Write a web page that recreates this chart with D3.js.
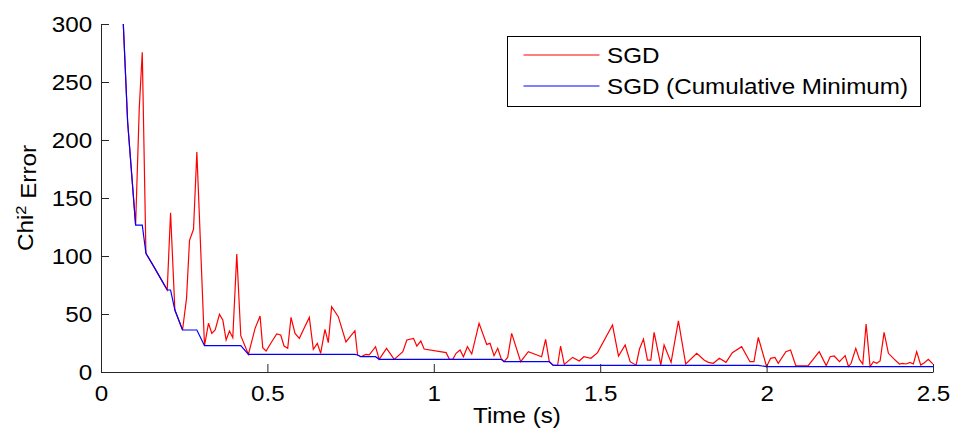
<!DOCTYPE html>
<html>
<head>
<meta charset="utf-8">
<script src="https://cdn.jsdelivr.net/npm/d3@7"></script>
<style>
  body { margin: 0; background: #fff; }
  #chart text { font-family: "Liberation Sans", Arial, sans-serif; fill: #000; }
</style>
</head>
<body>
<div id="chart"></div>
<script>
// SGD error (time in s, chi^2 error)
var sgdTime = [0.067, 0.080, 0.104, 0.115, 0.124, 0.135, 0.157, 0.179, 0.199, 0.209,
    0.222, 0.245, 0.257, 0.266, 0.278, 0.288, 0.311, 0.323, 0.333, 0.343,
    0.356, 0.366, 0.376, 0.386, 0.396, 0.408, 0.420, 0.443, 0.463, 0.478,
    0.486, 0.496, 0.513, 0.528, 0.540, 0.550, 0.561, 0.571, 0.583, 0.596,
    0.611, 0.626, 0.638, 0.650, 0.660, 0.673, 0.683, 0.693, 0.713, 0.736,
    0.763, 0.771, 0.781, 0.796, 0.806, 0.825, 0.836, 0.858, 0.881, 0.907,
    0.919, 0.939, 0.949, 0.961, 0.971, 1.037, 1.047, 1.057, 1.067, 1.079,
    1.089, 1.101, 1.114, 1.136, 1.159, 1.169, 1.181, 1.192, 1.202, 1.211,
    1.222, 1.234, 1.261, 1.284, 1.324, 1.336, 1.347, 1.359, 1.372, 1.381,
    1.392, 1.417, 1.437, 1.451, 1.472, 1.492, 1.537, 1.555, 1.575, 1.590,
    1.608, 1.618, 1.630, 1.642, 1.652, 1.662, 1.682, 1.692, 1.713, 1.735,
    1.757, 1.790, 1.812, 1.825, 1.840, 1.858, 1.878, 1.897, 1.925, 1.950,
    1.962, 1.975, 2.000, 2.012, 2.025, 2.035, 2.058, 2.072, 2.088, 2.125,
    2.158, 2.179, 2.191, 2.203, 2.219, 2.236, 2.246, 2.254, 2.268, 2.279,
    2.289, 2.299, 2.311, 2.321, 2.331, 2.341, 2.353, 2.366, 2.381, 2.399,
    2.409, 2.419, 2.431, 2.441, 2.451, 2.463, 2.474, 2.486, 2.500];
var sgdError = [300, 215.8, 126.7, 227.3, 275.6, 102.3, 91.7, 80.7, 70.7, 137.3,
    53.4, 36.2, 63.5, 113.5, 123, 189.7, 22.7, 42, 33.3, 36.2,
    49.7, 44.8, 27.6, 35.3, 29.6, 101.7, 31.3, 15.2, 37.6, 48.3,
    21, 18.1, 26.1, 32.8, 31.9, 22.4, 20.4, 47.1, 33.3, 29,
    38.2, 47.1, 19.5, 24.7, 16.1, 36.8, 25.3, 56.3, 47.7, 25.9,
    35.6, 14.7, 13.2, 15.2, 14.7, 21.8, 10.9, 20.4, 10.9, 17.5,
    27.6, 29, 22.4, 26.7, 19.8, 16.7, 10.9, 10.9, 16.1, 19,
    13.2, 21.8, 15.5, 42, 23.8, 24.7, 14.1, 20.4, 11.8, 8.9,
    12.6, 33.3, 8.9, 17.5, 13.2, 28.2, 8.9, 5.7, 5.8, 22.4,
    6.6, 12.6, 9.5, 13.2, 11.8, 16.7, 40.5, 13.8, 23.3, 8.9,
    5.9, 19.8, 28.4, 10.3, 10.3, 34.2, 5.9, 23.3, 8.3, 44,
    6.9, 16.1, 10.3, 8.3, 7.5, 11.8, 8.3, 16.7, 21.8, 8.9,
    8.9, 29.9, 4.6, 11.8, 12.5, 7.5, 17.5, 19, 5.2, 5.5,
    17.5, 5.5, 13.2, 13.8, 8.9, 14.1, 4.7, 7.5, 20.4, 10.9,
    6.9, 41.4, 4.7, 8.9, 7.5, 9.5, 34.2, 16.1, 11.8, 6.9,
    7.5, 6.9, 8.3, 6.9, 17.5, 6, 8, 10.9, 6.9];

// cumulative minimum, corner points
var minTime = [0.067, 0.080, 0.104, 0.124, 0.135, 0.157, 0.179, 0.199, 0.209, 0.222,
    0.245, 0.288, 0.311, 0.420, 0.443, 0.763, 0.771, 0.781, 0.825, 0.836,
    1.202, 1.211, 1.347, 1.359, 1.975, 2.000, 2.500];
var minError = [300, 215.8, 126.7, 126.7, 102.3, 91.7, 80.7, 70.7, 70.7, 53.4,
    36.2, 36.2, 22.7, 22.7, 15.2, 15.2, 14.7, 13.2, 13.2, 10.9,
    10.9, 8.9, 8.9, 5.7, 5.7, 4.6, 4.6];

var xTicks = [0, 0.5, 1, 1.5, 2, 2.5];
var yTicks = [0, 50, 100, 150, 200, 250, 300];
var seriesNames = ["SGD", "SGD (Cumulative Minimum)"];
var seriesColors = ["#ff0000", "#0000ff"];

var svgWidth = 953, svgHeight = 436;
var margin = { top: 24, right: 20, bottom: 64, left: 101 };
var width = svgWidth - margin.left - margin.right;   // 832
var height = svgHeight - margin.top - margin.bottom; // 348
var stretch = "scale(1.1,1)"; // reference glyphs are a bit wider than Arial

var svg = d3.select("#chart")
            .append("svg")
            .attr("width", svgWidth)
            .attr("height", svgHeight)
            .append("g")
            .attr("transform", "translate(" + margin.left + "," + margin.top + ")");

var xScale = d3.scaleLinear().domain([0, 2.5]).range([0, width]);
var yScale = d3.scaleLinear().domain([0, 300]).range([height, 0]);

svg.append("clipPath").attr("id", "plotclip")
   .append("rect").attr("width", width).attr("height", height);

var sgdData = sgdTime.map(function(t, i) { return [t, sgdError[i]]; });
var minData = minTime.map(function(t, i) { return [t, minError[i]]; });

var line = d3.line()
             .x(function(d) { return xScale(d[0]); })
             .y(function(d) { return yScale(d[1]); });

var plot = svg.append("g").attr("clip-path", "url(#plotclip)");
plot.append("path")
    .datum(sgdData)
    .attr("d", line)
    .attr("fill", "none")
    .attr("stroke", seriesColors[0])
    .attr("stroke-width", 1.2);
plot.append("path")
    .datum(minData)
    .attr("d", line)
    .attr("fill", "none")
    .attr("stroke", seriesColors[1])
    .attr("stroke-width", 1.2);

// axes, ticks pointing inward like matlab
var xAxis = d3.axisBottom(xScale)
              .tickValues(xTicks)
              .tickFormat(d3.format("~g"))
              .tickSizeInner(-8)
              .tickSizeOuter(0)
              .tickPadding(13);
var yAxis = d3.axisLeft(yScale)
              .tickValues(yTicks)
              .tickSizeInner(-8)
              .tickSizeOuter(0)
              .tickPadding(8);

var xAxisGroup = svg.append("g")
                    .attr("transform", "translate(0," + height + ")")
                    .call(xAxis);
var yAxisGroup = svg.append("g").call(yAxis);

[xAxisGroup, yAxisGroup].forEach(function(g) {
    g.select(".domain").attr("stroke", "#262626");
    g.selectAll(".tick line").attr("stroke", "#262626");
    g.selectAll("text")
     .style("font-size", "22px")
     .attr("transform", stretch);
});

svg.append("text")
   .attr("x", width / 2)
   .attr("y", height + 51)
   .attr("text-anchor", "middle")
   .style("font-size", "22px")
   .attr("transform", "translate(" + (width / 2) + ",0) " + stretch + " translate(" + (-width / 2) + ",0)")
   .text("Time (s)");

var yLabel = svg.append("text")
   .attr("transform", "translate(-68," + (height / 2) + ") rotate(-90) " + stretch)
   .attr("text-anchor", "middle")
   .style("font-size", "22px");
yLabel.append("tspan").text("Chi");
yLabel.append("tspan").attr("dy", "-0.45em").style("font-size", "15px").text("2");
yLabel.append("tspan").attr("dy", "0.45em").text(" Error");

// legend
var legend = svg.append("g")
                .attr("transform", "translate(" + (507.5 - margin.left) + "," + (36.5 - margin.top) + ")");
legend.append("rect")
      .attr("width", 413)
      .attr("height", 70)
      .attr("fill", "#fff")
      .attr("stroke", "#000")
      .attr("stroke-width", 1);
seriesNames.forEach(function(name, i) {
    var yPos = 18.5 + i * 31;
    legend.append("line")
          .attr("x1", 16).attr("x2", 92)
          .attr("y1", yPos).attr("y2", yPos)
          .attr("stroke", seriesColors[i])
          .attr("stroke-width", 1.2);
    legend.append("text")
          .attr("x", 0)
          .attr("y", yPos + 8)
          .style("font-size", "22px")
          .attr("transform", "translate(99.5,0) " + stretch)
          .text(name);
});
</script>
</body>
</html>
